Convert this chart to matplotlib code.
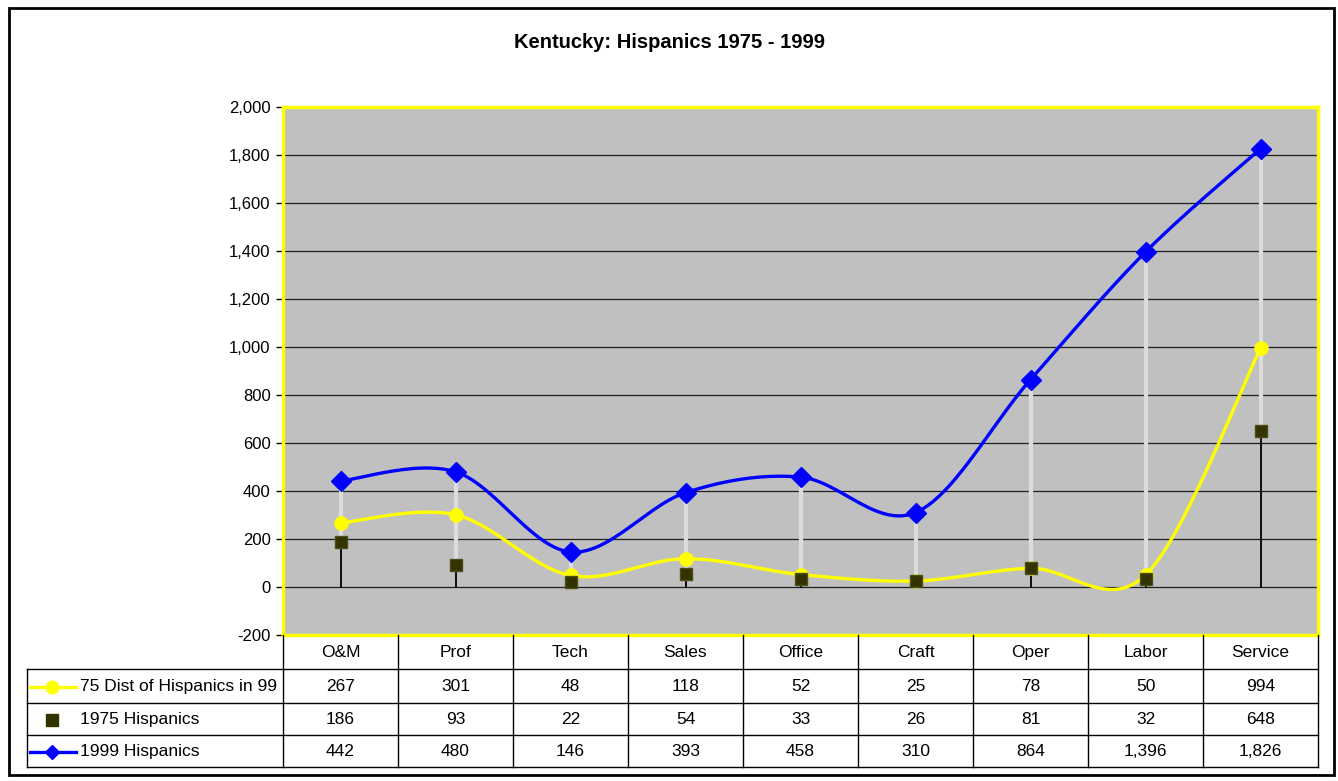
import numpy as np
import matplotlib
matplotlib.use('Agg')
import matplotlib.pyplot as plt
import matplotlib.ticker as mtick
from matplotlib import rcParams
from matplotlib.lines import Line2D

rcParams['font.family'] = 'sans-serif'
rcParams['font.sans-serif'] = ['Liberation Sans', 'DejaVu Sans']

categories = ['O&M', 'Prof', 'Tech', 'Sales', 'Office', 'Craft', 'Oper', 'Labor', 'Service']
dist_75_in_99 = [267, 301, 48, 118, 52, 25, 78, 50, 994]
hisp_1975 = [186, 93, 22, 54, 33, 26, 81, 32, 648]
hisp_1999 = [442, 480, 146, 393, 458, 310, 864, 1396, 1826]
series_names = ['75 Dist of Hispanics in 99', '1975 Hispanics', '1999 Hispanics']
title = 'Kentucky: Hispanics 1975 - 1999'

W, H = 1338, 781
fig = plt.figure(figsize=(W / 100, H / 100), dpi=100)
fig.patch.set_facecolor('white')


def fx(x):
    return x / W


def fy(y):
    return 1 - y / H


# plot area in pixels
left, right, top, bottom = 283, 1318, 107, 635
ax = fig.add_axes([fx(left), fy(bottom), fx(right - left), (bottom - top) / H])
ax.set_facecolor('#C0C0C0')
ax.set_xlim(-0.5, len(categories) - 0.5)
ax.set_ylim(-200, 2000)
ax.set_yticks(np.arange(-200, 2001, 200))
ax.yaxis.set_major_formatter(mtick.FuncFormatter(lambda v, p: '{:,.0f}'.format(v)))
ax.tick_params(axis='y', length=5, width=1, labelsize=12, pad=4, color='black')
ax.set_xticks([])
for s in ax.spines.values():
    s.set_color('#FFFF00')
    s.set_linewidth(2.5)
ax.grid(axis='y', color='#202020', linewidth=0.9)
ax.set_axisbelow(True)
ax.axvline(-0.5, color='black', lw=1, zorder=1)


# excel-style smoothed line (bezier through the points)
def smooth(xs, ys, n=30):
    xs = np.asarray(xs, float)
    ys = np.asarray(ys, float)
    px, py = [], []
    for i in range(len(xs) - 1):
        i0 = max(i - 1, 0)
        i3 = min(i + 2, len(xs) - 1)
        c1x = xs[i] + (xs[i + 1] - xs[i0]) / 6
        c1y = ys[i] + (ys[i + 1] - ys[i0]) / 6
        c2x = xs[i + 1] - (xs[i3] - xs[i]) / 6
        c2y = ys[i + 1] - (ys[i3] - ys[i]) / 6
        t = np.linspace(0, 1, n)
        bx = (1 - t) ** 3 * xs[i] + 3 * (1 - t) ** 2 * t * c1x + 3 * (1 - t) * t ** 2 * c2x + t ** 3 * xs[i + 1]
        by = (1 - t) ** 3 * ys[i] + 3 * (1 - t) ** 2 * t * c1y + 3 * (1 - t) * t ** 2 * c2y + t ** 3 * ys[i + 1]
        px.extend(bx)
        py.extend(by)
    return px, py


x = np.arange(len(categories))

# drop lines: black from axis to lowest value, light gray up to the highest
for i in x:
    vals = [dist_75_in_99[i], hisp_1975[i], hisp_1999[i]]
    ax.plot([i, i], [0, min(vals)], color='black', lw=1.3, zorder=2)
    ax.plot([i, i], [min(vals), max(vals)], color='#DCDCDC', lw=3, zorder=2)

sx, sy = smooth(x, dist_75_in_99)
ax.plot(sx, sy, color='#FFFF00', lw=2.4, zorder=3)
ax.plot(x, dist_75_in_99, 'o', color='#FFFF00', ms=9.5, zorder=3)
ax.plot(x, hisp_1975, 's', color='#333300', mec='#4d4d1a', ms=9, zorder=4)
sx, sy = smooth(x, hisp_1999)
ax.plot(sx, sy, color='#0000FF', lw=2.4, zorder=5)
ax.plot(x, hisp_1999, 'D', color='#0000FF', ms=10, zorder=5)

# title
fig.text(fx(670), fy(42), title, ha='center', va='center', fontsize=14.5, fontweight='bold')

# data table below the plot
col_w = (right - left) / len(categories)
row_y = [635, 669, 703, 735, 767]
tbl_left = 27


def hline(x0, x1, y):
    fig.add_artist(Line2D([fx(x0), fx(x1)], [fy(y), fy(y)], color='black', lw=1))


def vline(xp, y0, y1):
    fig.add_artist(Line2D([fx(xp), fx(xp)], [fy(y0), fy(y1)], color='black', lw=1))


for y in row_y[1:]:
    hline(tbl_left, right, y)
for j in range(len(categories) + 1):
    vline(left + j * col_w, row_y[0], row_y[-1])
vline(tbl_left, row_y[1], row_y[-1])

for j, c in enumerate(categories):
    cx = left + (j + 0.5) * col_w
    fig.text(fx(cx), fy((row_y[0] + row_y[1]) / 2 - 1), c, ha='center', va='center_baseline', fontsize=12.5)
    for r, vals in enumerate([dist_75_in_99, hisp_1975, hisp_1999]):
        cy = (row_y[r + 1] + row_y[r + 2]) / 2 - 1
        fig.text(fx(cx), fy(cy), '{:,}'.format(vals[j]), ha='center', va='center_baseline', fontsize=12.5)

# legend keys in the table
key_styles = [('#FFFF00', 'o', True, 9), ('#333300', 's', False, 8), ('#0000FF', 'D', True, 7)]
for r, (name, (col, mk, has_line, ms)) in enumerate(zip(series_names, key_styles)):
    cy = fy((row_y[r + 1] + row_y[r + 2]) / 2 + 1)
    if has_line:
        fig.add_artist(Line2D([fx(30), fx(76)], [cy, cy], color=col, lw=2.4))
    fig.add_artist(Line2D([fx(52)], [cy], marker=mk, color=col, ms=ms, lw=0))
    fig.text(fx(80), fy((row_y[r + 1] + row_y[r + 2]) / 2 - 1), name, ha='left',
             va='center_baseline', fontsize=12.5)

# outer frame
frame = plt.Rectangle((fx(9), fy(775)), fx(1334 - 9), (775 - 8) / H, fill=False,
                      edgecolor='black', lw=2, transform=fig.transFigure)
fig.add_artist(frame)

fig.savefig('out.png', dpi=100)
